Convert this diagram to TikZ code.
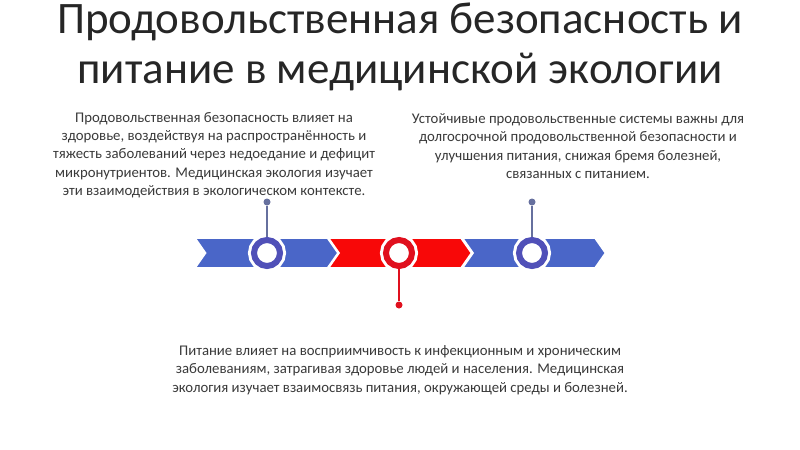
\documentclass[tikz,border=0pt]{standalone}
\usepackage{fontspec}
\setmainfont{Carlito}
\usetikzlibrary{positioning, shapes.symbols}

\definecolor{bandblue}{HTML}{4A66C8}
\definecolor{ringblue}{HTML}{5050B8}
\definecolor{stemblue}{HTML}{66709E}
\definecolor{bandred}{HTML}{F80808}
\definecolor{ringred}{HTML}{E0101E}
\definecolor{bodygray}{HTML}{3A3A3A}

\tikzset{
	segment/.style={signal, signal from=west, signal to=east, signal pointer angle=110,
		minimum width=143*0.025cm, minimum height=30*0.025cm, inner sep=0pt, draw=white, line width=1.2pt},
	ring/.style={circle, minimum size=26*0.025cm, inner sep=0pt, fill=white, line width=6*0.025cm,
		preaction={draw=white, line width=12*0.025cm}},
	pin/.style={circle, minimum size=7*0.025cm, inner sep=0pt},
	stem/.style={line width=1.4pt},
	para/.style={align=center, text=bodygray, font=\fontsize{10.5}{13}\selectfont},
}

\begin{document}
\begin{tikzpicture}[x=0.025cm, y=-0.025cm]
	\useasboundingbox[fill=white] (0,0) rectangle (800,449);
	%title
	\node[align=center, text=black!85, font=\fontsize{32}{35.6}\selectfont] (title) at (400,47) {Продовольственная безопасность и\\питание в медицинской экологии};
	%band
	\node[segment, fill=bandblue] (seg1) at (266.5,253) {};
	\node[segment, fill=bandred] (seg2) at (400,253) {};
	\node[segment, fill=bandblue] (seg3) at (534,253) {};
	%rings
	\node[ring, draw=ringblue] (ring1) at (267,253) {};
	\node[ring, draw=ringred] (ring2) at (399,253) {};
	\node[ring, draw=ringblue] (ring3) at (532,253) {};
	%pins
	\node[pin, fill=stemblue] (pin1) at (267,202) {};
	\node[pin, fill=ringred] (pin2) at (399,305) {};
	\node[pin, fill=stemblue] (pin3) at (532,202) {};
	\draw[stem, stemblue] (pin1) -- (ring1);
	\draw[stem, ringred] (pin2) -- (ring2);
	\draw[stem, stemblue] (pin3) -- (ring3);
	%texts
	\node[para] (text1) at (214,155) {Продовольственная безопасность влияет на\\здоровье, воздействуя на распространённость и\\тяжесть заболеваний через недоедание и дефицит\\микронутриентов. Медицинская экология изучает\\эти взаимодействия в экологическом контексте.};
	\node[para] (text2) at (578,146) {Устойчивые продовольственные системы важны для\\долгосрочной продовольственной безопасности и\\улучшения питания, снижая бремя болезней,\\связанных с питанием.};
	\node[para] (text3) at (400,370) {Питание влияет на восприимчивость к инфекционным и хроническим\\заболеваниям, затрагивая здоровье людей и населения. Медицинская\\экология изучает взаимосвязь питания, окружающей среды и болезней.};
\end{tikzpicture}
\end{document}
